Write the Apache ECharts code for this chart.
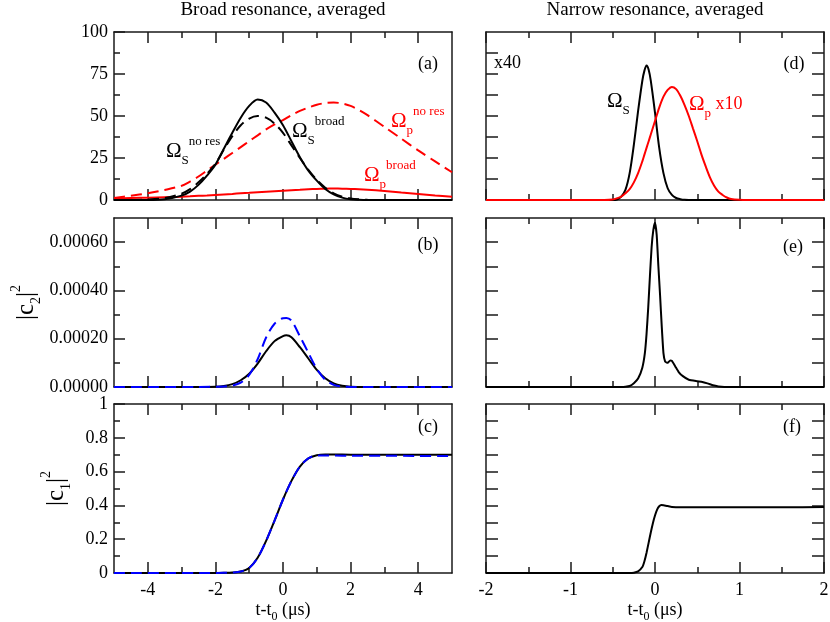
<!DOCTYPE html>
<html lang="en">
<head>
<meta charset="UTF-8">
<title>Broad / narrow resonance, averaged</title>
<script src="https://cdn.jsdelivr.net/npm/echarts@6/dist/echarts.min.js"></script>
<style>
  html, body { margin: 0; padding: 0; background: #fff; }
  #main { width: 830px; height: 622px; }
</style>
</head>
<body>
<div id="main"></div>
<script type="text/javascript">
// ---- values ----

// panel (a): pulse amplitudes, broad resonance (t - t0 in us)
var aX       = [-5, -4.5, -4, -3.5, -3, -2.75, -2.5, -2.25, -2, -1.75, -1.5, -1.25, -1, -0.75, -0.5, -0.25, 0, 0.25, 0.5, 0.75, 1, 1.25, 1.5, 1.75, 2, 2.25, 2.5, 3, 3.5, 4, 4.5, 5];
var aSBroad  = [0, 0, 0, 0.4, 2.6, 5, 9, 14.5, 21, 30.5, 40, 49, 56, 59.8, 58, 52, 44.5, 35, 25.5, 17.5, 11.5, 6.5, 3.3, 1.4, 0.4, 0.1, 0, 0, 0, 0, 0, 0];
var aSNoRes  = [0, 0.05, 0.3, 1.2, 3.8, 6.5, 10.5, 15.5, 21.5, 30, 38, 44.5, 48.5, 50, 49, 45.5, 40, 32.5, 25, 18, 12, 7.3, 4, 2, 0.9, 0.4, 0.15, 0, 0, 0, 0, 0];
var aPNoRes  = [1.2, 2.5, 4, 6, 8.5, 11, 14, 17.5, 21, 24.5, 28, 31.5, 35, 38.5, 42, 45, 47.5, 50.5, 53, 55, 56.7, 57.7, 58, 57.5, 56, 53.5, 50.5, 43.5, 36.5, 29.5, 23, 16.5];
var aPBroad  = [1, 1.2, 1.4, 1.7, 2, 2.2, 2.5, 2.7, 3, 3.3, 3.6, 4, 4.3, 4.6, 4.9, 5.2, 5.5, 5.8, 6.1, 6.4, 6.6, 6.75, 6.8, 6.75, 6.6, 6.4, 6.1, 5.4, 4.5, 3.6, 2.7, 1.9];

// panel (b): |c2|^2
var bX     = [-5, -2.5, -2, -1.75, -1.5, -1.25, -1, -0.75, -0.5, -0.25, 0, 0.1, 0.25, 0.5, 0.75, 1, 1.25, 1.5, 1.75, 2, 2.5, 5];
var bBroad = [0, 0, 0.000001, 0.000004, 0.000012, 0.000028, 0.000055, 0.000097, 0.000148, 0.00019, 0.000211, 0.000214, 0.000206, 0.000165, 0.000118, 0.000071, 0.000036, 0.000015, 0.000005, 0.000001, 0, 0];
var bNoRes = [0, 0, 0.000001, 0.000002, 0.000006, 0.000018, 0.00005, 0.000115, 0.000205, 0.000262, 0.000285, 0.000286, 0.000275, 0.00021, 0.000142, 0.000075, 0.00003, 0.000009, 0.000002, 0, 0, 0];

// panel (c): |c1|^2
var cX     = [-5, -2, -1.75, -1.5, -1.25, -1, -0.75, -0.5, -0.25, 0, 0.25, 0.5, 0.75, 1, 1.25, 1.5, 2, 3, 4, 5];
var cBroad = [0, 0, 0.001, 0.003, 0.009, 0.03, 0.09, 0.19, 0.31, 0.435, 0.545, 0.63, 0.678, 0.697, 0.701, 0.701, 0.7, 0.7, 0.7, 0.7];
var cNoRes = [0, 0, 0.001, 0.003, 0.009, 0.03, 0.09, 0.19, 0.31, 0.435, 0.545, 0.63, 0.678, 0.695, 0.695, 0.695, 0.694, 0.694, 0.693, 0.693];

// panel (d): pulses, narrow resonance (Omega_S x40, Omega_p x40 x10)
var dX = [-2, -0.6, -0.5, -0.45, -0.4, -0.35, -0.3, -0.25, -0.2, -0.15, -0.125, -0.1, -0.075, -0.05, 0, 0.05, 0.1, 0.15, 0.2, 0.25, 0.3, 0.35, 0.4, 0.45, 0.5, 0.55, 0.6, 0.65, 0.7, 0.75, 0.8, 0.85, 0.9, 1, 1.1, 2];
var dS = [0, 0, 0, 0.3, 2, 6, 16, 33, 53, 71, 77, 80, 77.5, 71, 52, 31, 16, 7, 3, 1.2, 0.5, 0.1, 0, 0, 0, 0, 0, 0, 0, 0, 0, 0, 0, 0, 0, 0];
var dP = [0, 0, 0.3, 1, 2, 4, 6.5, 10.5, 16, 23, 27, 31, 35, 39, 47, 55, 61.5, 65.5, 67.3, 66, 62, 56.5, 50, 42.5, 35, 27, 20, 13.5, 8.5, 5, 3, 1.5, 0.6, 0.1, 0, 0];

// panel (e): |c2|^2, narrow
var eX = [-2, -0.4, -0.35, -0.3, -0.25, -0.2, -0.15, -0.12, -0.1, -0.08, -0.06, -0.04, -0.02, 0, 0.02, 0.04, 0.06, 0.08, 0.1, 0.12, 0.15, 0.18, 0.2, 0.24, 0.28, 0.33, 0.4, 0.5, 0.56, 0.62, 0.7, 0.75, 0.82, 2];
var eC2 = [0, 0, 0.000001, 0.000004, 0.000016, 0.000035, 0.00008, 0.00014, 0.00022, 0.00033, 0.00046, 0.00058, 0.00065, 0.00068, 0.00063, 0.0005, 0.00038, 0.00025, 0.00014, 0.000105, 0.0001, 0.00011, 0.000108, 0.000085, 0.000062, 0.000045, 0.00003, 0.000024, 0.000021, 0.000015, 0.000006, 0.000002, 0, 0];

// panel (f): |c1|^2, narrow
var fX = [-2, -0.3, -0.25, -0.2, -0.15, -0.125, -0.1, -0.075, -0.05, -0.025, 0, 0.025, 0.05, 0.075, 0.1, 0.15, 0.2, 0.3, 0.5, 1, 1.5, 2];
var fC1 = [0, 0, 0.002, 0.01, 0.035, 0.07, 0.12, 0.18, 0.24, 0.295, 0.34, 0.375, 0.395, 0.402, 0.401, 0.396, 0.391, 0.389, 0.389, 0.389, 0.389, 0.39];

// ticks
var xLeftMajor  = [-4, -2, 0, 2, 4];
var xLeftMinor  = [-3, -1, 1, 3];
var xRightMajor = [-2, -1, 0, 1, 2];
var xRightMinor = [-1.5, -0.5, 0.5, 1.5];
var yAMajor = [0, 25, 50, 75, 100];
var yAMinor = [12.5, 37.5, 62.5, 87.5];
var yBMajor = [0, 0.0002, 0.0004, 0.0006];
var yBMinor = [0.0001, 0.0003, 0.0005];
var yCMajor = [0, 0.2, 0.4, 0.6, 0.8, 1];
var yCMinor = [0.1, 0.3, 0.5, 0.7, 0.9];
var yDTicks = [12.5, 25, 37.5, 50, 62.5, 75, 87.5];
var yETicks = [0.0001, 0.0002, 0.0003, 0.0004, 0.0005, 0.0006];
var yFTicks = [0.1, 0.2, 0.3, 0.4, 0.5, 0.6, 0.7, 0.8, 0.9];

// ---- chart ----
var FONT = "'Liberation Serif', 'Times New Roman', serif";
var AX = '#1a1a1a';
var RED = '#ff0000', BLUE = '#0000ff', BLACK = '#000000';

var xLeft  = {min: -5, max: 5, major: xLeftMajor, minor: xLeftMinor};
var xRight = {min: -2, max: 2, major: xRightMajor, minor: xRightMinor};
var yA = {min: 0, max: 100, major: yAMajor, minor: yAMinor, fmt: function (v) { return String(v); }};
var yB = {min: 0, max: 0.0007, major: yBMajor, minor: yBMinor, fmt: function (v) { return v.toFixed(5); }};
var yC = {min: 0, max: 1, major: yCMajor, minor: yCMinor, fmt: function (v) { return String(v); }};
var yD = {min: 0, max: 100, major: yDTicks};
var yE = {min: 0, max: 0.0007, major: yETicks};
var yF = {min: 0, max: 1, major: yFTicks};

var xName = '{t|t-t}{s|0}{t| (μs)}';
var xNameStyle = {
    rich: {
        t: {fontFamily: FONT, fontSize: 18, color: '#000', lineHeight: 26},
        s: {fontFamily: FONT, fontSize: 12, color: '#000', lineHeight: 12, verticalAlign: 'bottom'}
    }
};
function yNameOf(k) { return '{m||c}{s|' + k + '}{m||}{p|2}'; }
var yNameStyle = {
    rich: {
        m: {fontFamily: FONT, fontSize: 25, color: '#000', lineHeight: 34},
        s: {fontFamily: FONT, fontSize: 14, color: '#000', lineHeight: 14, verticalAlign: 'bottom'},
        p: {fontFamily: FONT, fontSize: 14, color: '#000', lineHeight: 14, verticalAlign: 'top'}
    }
};

var panels = [
    {grid: {left: 114, top: 32, width: 338, height: 168}, xs: xLeft, ys: yA, yLabels: true},
    {grid: {left: 114, top: 218, width: 338, height: 169}, xs: xLeft, ys: yB, yLabels: true, yName: yNameOf(2), yGap: 71},
    {grid: {left: 114, top: 404, width: 338, height: 169}, xs: xLeft, ys: yC, yLabels: true, xLabels: true, yName: yNameOf(1), yGap: 41},
    {grid: {left: 486, top: 32, width: 338, height: 168}, xs: xRight, ys: yD, rightTicks: true},
    {grid: {left: 486, top: 218, width: 338, height: 169}, xs: xRight, ys: yE, rightTicks: true},
    {grid: {left: 486, top: 404, width: 338, height: 169}, xs: xRight, ys: yF, rightTicks: true, xLabels: true}
];

function baseAxis(gi, spec, pos) {
    return {
        type: 'value', gridIndex: gi, position: pos, min: spec.min, max: spec.max,
        axisLine: {show: false, onZero: false},
        splitLine: {show: false},
        minorTick: {show: false},
        axisLabel: {show: false},
        axisTick: {show: false}
    };
}
function withTicks(ax, vals, len) {
    ax.axisTick = {show: true, inside: true, length: len, customValues: vals,
        lineStyle: {color: AX, width: 1.5}};
    return ax;
}
function withLine(ax) {
    ax.axisLine = {show: true, onZero: false, lineStyle: {color: AX, width: 1.5}};
    return ax;
}

var grids = [], xAxes = [], yAxes = [], xMain = [], yMain = [];
panels.forEach(function (p, i) {
    var g = p.grid;
    grids.push({left: g.left, top: g.top, width: g.width, height: g.height, outerBoundsMode: 'none', containLabel: false});

    var xb = withLine(withTicks(baseAxis(i, p.xs, 'bottom'), p.xs.major, 11));
    if (p.xLabels) {
        xb.axisLabel = {show: true, customValues: p.xs.major, fontFamily: FONT, fontSize: 18, color: '#000', margin: 8};
        xb.name = xName;
        xb.nameLocation = 'middle';
        xb.nameGap = 24;
        xb.nameTextStyle = xNameStyle;
    }
    xMain.push(xAxes.length);
    xAxes.push(xb);
    xAxes.push(withTicks(baseAxis(i, p.xs, 'bottom'), p.xs.minor, 6));
    xAxes.push(withLine(withTicks(baseAxis(i, p.xs, 'top'), p.xs.major, 11)));
    xAxes.push(withTicks(baseAxis(i, p.xs, 'top'), p.xs.minor, 6));

    var yl = withLine(withTicks(baseAxis(i, p.ys, 'left'), p.ys.major, p.rightTicks ? 12 : 11));
    if (p.yLabels) {
        yl.axisLabel = {show: true, customValues: p.ys.major, formatter: p.ys.fmt, fontFamily: FONT, fontSize: 18, color: '#000', margin: 6};
    }
    if (p.yName) {
        yl.name = p.yName;
        yl.nameLocation = 'middle';
        yl.nameRotate = 90;
        yl.nameGap = p.yGap;
        yl.nameTextStyle = yNameStyle;
    }
    yMain.push(yAxes.length);
    yAxes.push(yl);
    if (p.ys.minor) {
        yAxes.push(withTicks(baseAxis(i, p.ys, 'left'), p.ys.minor, 6));
    }
    var yr = withLine(baseAxis(i, p.ys, 'right'));
    if (p.rightTicks) {
        withTicks(yr, p.ys.major, 12);
    }
    yAxes.push(yr);
});

function zip(xs, ys) {
    return xs.map(function (x, k) { return [x, ys[k]]; });
}
function line(panel, xs, ys, color, dashed, smooth) {
    return {
        type: 'line',
        xAxisIndex: xMain[panel], yAxisIndex: yMain[panel],
        data: zip(xs, ys),
        symbol: 'none', showSymbol: false,
        smooth: smooth,
        clip: true,
        lineStyle: {color: color, width: 2, type: dashed ? [11, 6] : 'solid'},
        emphasis: {disabled: true}
    };
}

var series = [
    line(0, aX, aPBroad, RED, false, 0.3),
    line(0, aX, aPNoRes, RED, true, 0.3),
    line(0, aX, aSNoRes, BLACK, true, 0.3),
    line(0, aX, aSBroad, BLACK, false, 0.3),
    line(1, bX, bBroad, BLACK, false, 0.3),
    line(1, bX, bNoRes, BLUE, true, 0.3),
    line(2, cX, cBroad, BLACK, false, 0.3),
    line(2, cX, cNoRes, BLUE, true, 0.3),
    line(3, dX, dS, BLACK, false, 0.3),
    line(3, dX, dP, RED, false, 0.3),
    line(4, eX, eC2, BLACK, false, 0.15),
    line(5, fX, fC1, BLACK, false, 0.15)
];

// text annotations
var omegaRich = {
    o: {fontFamily: FONT, fontSize: 21, lineHeight: 32},
    n: {fontFamily: FONT, fontSize: 18, lineHeight: 32},
    sub: {fontFamily: FONT, fontSize: 13, lineHeight: 13, verticalAlign: 'bottom'},
    sup: {fontFamily: FONT, fontSize: 13, lineHeight: 13, verticalAlign: 'top'}
};
function note(text, x, y, color, rich, size, align) {
    var st = {text: text, fill: color, fontFamily: FONT, fontSize: size || 18,
        align: align || 'left', verticalAlign: 'middle'};
    if (rich) { st.rich = rich; }
    return {type: 'text', x: x, y: y, z: 100, style: st};
}
var graphics = [
    note('Broad resonance, averaged', 283, 10, '#000', null, 19, 'center'),
    note('Narrow resonance, averaged', 655, 10, '#000', null, 19, 'center'),
    note('(a)', 428, 64, '#000', null, 18, 'center'),
    note('(b)', 428, 245, '#000', null, 18, 'center'),
    note('(c)', 428, 427, '#000', null, 18, 'center'),
    note('(d)', 794, 64, '#000', null, 18, 'center'),
    note('(e)', 793, 247, '#000', null, 18, 'center'),
    note('(f)', 792, 427, '#000', null, 18, 'center'),
    note('x40', 494, 63, '#000', null, 18, 'left'),
    note('{o|Ω}{sub|S}{sup|no res}', 166, 151, BLACK, omegaRich),
    note('{o|Ω}{sub|S}{sup|broad}', 292, 131, BLACK, omegaRich),
    note('{o|Ω}{sub|p}{sup|no res}', 391, 121, RED, omegaRich),
    note('{o|Ω}{sub|p}{sup|broad}', 364, 175, RED, omegaRich),
    note('{o|Ω}{sub|S}', 607, 101, BLACK, omegaRich),
    note('{o|Ω}{sub|p}{n| x10}', 689, 104, RED, omegaRich)
];

var myChart = echarts.init(document.getElementById('main'), null, {renderer: 'canvas'});
myChart.setOption({
    animation: false,
    backgroundColor: '#ffffff',
    grid: grids,
    xAxis: xAxes,
    yAxis: yAxes,
    series: series,
    graphic: graphics
});
</script>
</body>
</html>
